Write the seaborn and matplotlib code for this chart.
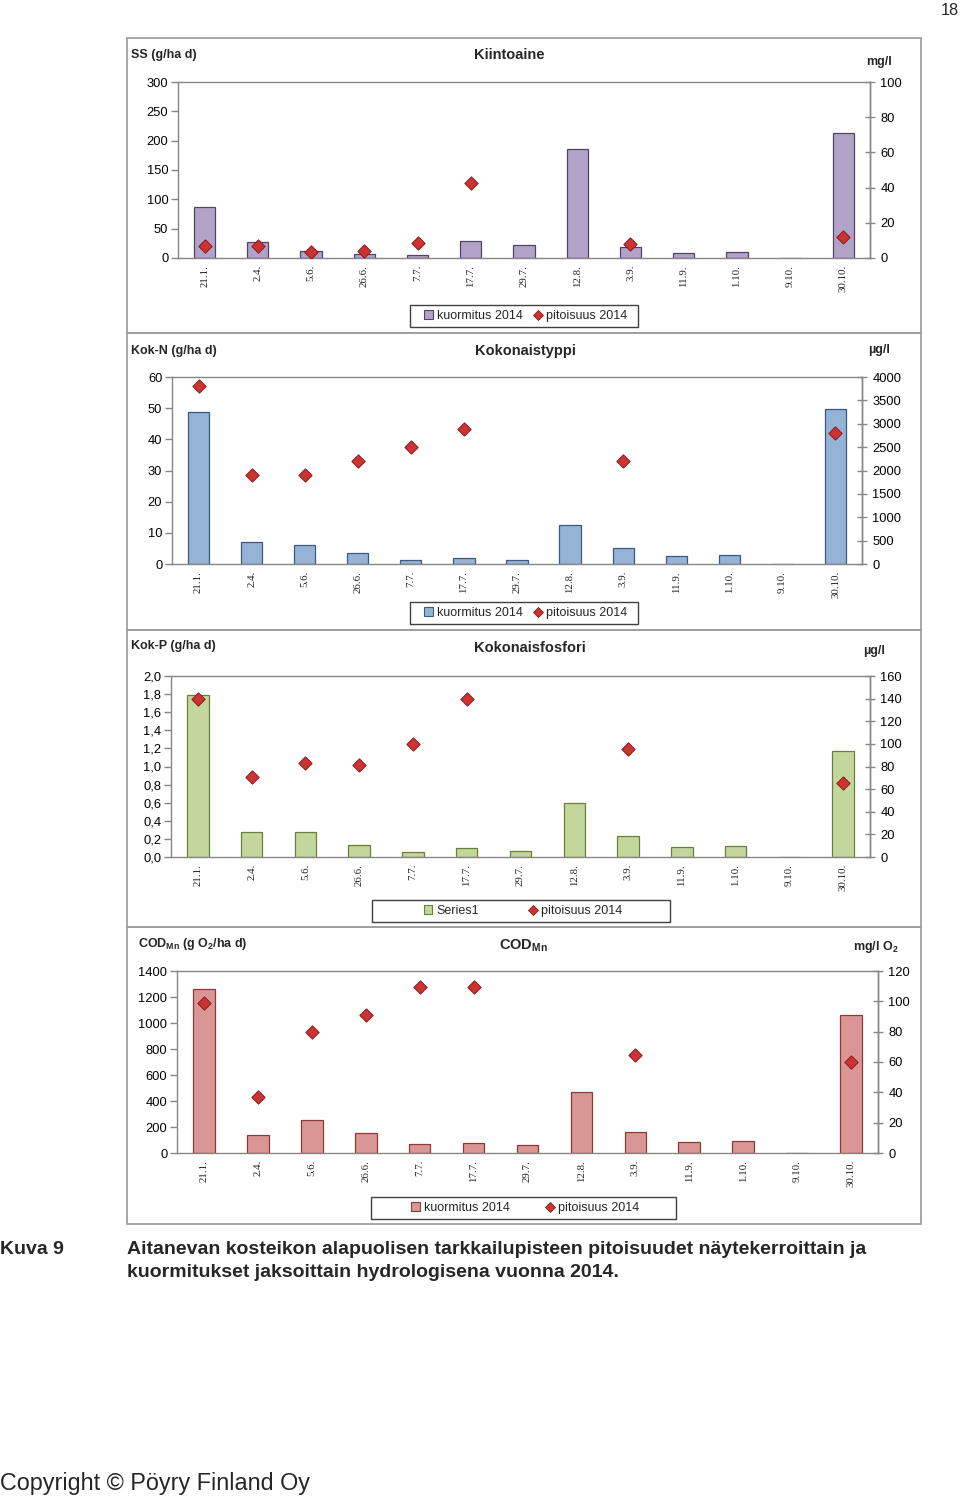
import numpy as np
import matplotlib
matplotlib.use("Agg")
import matplotlib.pyplot as plt
import seaborn as sns
from matplotlib.patches import Rectangle, Patch
from matplotlib.lines import Line2D
from matplotlib.ticker import FuncFormatter

nan = np.nan

# ---------------- data ----------------
dates = ["21.1.", "2.4.", "5.6.", "26.6.", "7.7.", "17.7.", "29.7.", "12.8.",
         "3.9.", "11.9.", "1.10.", "9.10.", "30.10."]

ss_load = [87, 27, 12, 7, 5, 29, 22, 186, 19, 9, 10, 0, 213]
ss_conc = [6.8, 6.8, 3.4, 4.0, 8.5, 42.6, nan, nan, 8.0, nan, nan, nan, 11.9]

n_load = [48.8, 7.1, 6.1, 3.5, 1.3, 1.9, 1.3, 12.5, 5.1, 2.6, 2.9, 0, 49.7]
n_conc = [3807, 1904, 1904, 2203, 2503, 2888, nan, nan, 2203, nan, nan, nan, 2802]

p_load = [1.79, 0.28, 0.28, 0.13, 0.055, 0.10, 0.066, 0.60, 0.23, 0.11, 0.12, 0, 1.17]
p_conc = [139.7, 70.7, 83.0, 81.0, 100.0, 139.7, nan, nan, 95.5, nan, nan, nan, 65.4]

cod_load = [1262, 138, 254, 154, 69, 77, 62, 469, 162, 85, 92, 0, 1062]
cod_conc = [98.9, 36.9, 79.8, 91.0, 109.4, 109.4, nan, nan, 64.6, nan, nan, nan, 60.0]

# ---------------- style ----------------
sns.set_theme(style="white")
plt.rcParams['font.family'] = ['Liberation Sans', 'DejaVu Sans']
plt.rcParams['mathtext.fontset'] = 'custom'
plt.rcParams['mathtext.rm'] = 'Liberation Sans'
plt.rcParams['mathtext.bf'] = 'Liberation Sans:bold'
plt.rcParams['mathtext.it'] = 'Liberation Sans:italic'

W, H = 960, 1498
fig = plt.figure(figsize=(W / 100, H / 100), dpi=100)
fig.patch.set_facecolor('white')


def fx(px):
    return px / W


def fy(py):
    return 1 - py / H


SPINE = '#868686'
MK_FACE = '#cc3333'
MK_EDGE = '#8b1a1a'

panels = [
    dict(top_box=38, bot_box=333, left=178, right=870, top=82, bottom=258,
         load=ss_load, conc=ss_conc, ymax=300, ystep=50, y2max=100, y2step=20,
         fc='#b3a2c7', ec='#4f4466', fmt=None,
         ltitle=("SS (g/ha d)", 131, 55), title=("Kiintoaine", 509, 55),
         rtitle=("mg/l", 866, 62),
         leg=(410, 638, 305, 327), leglabels=["kuormitus 2014", "pitoisuus 2014"], colsp=0.9),
    dict(top_box=333, bot_box=630, left=172, right=862, top=377, bottom=564,
         load=n_load, conc=n_conc, ymax=60, ystep=10, y2max=4000, y2step=500,
         fc='#95b3d7', ec='#3c5a80', fmt=None,
         ltitle=("Kok-N (g/ha d)", 131, 351), title=("Kokonaistyppi", 525, 351),
         rtitle=("µg/l", 868, 350),
         leg=(410, 638, 602, 624), leglabels=["kuormitus 2014", "pitoisuus 2014"], colsp=0.9),
    dict(top_box=630, bot_box=927, left=171, right=870, top=676, bottom=857,
         load=p_load, conc=p_conc, ymax=2.0, ystep=0.2, y2max=160, y2step=20,
         fc='#c3d69b', ec='#66803a', fmt='comma',
         ltitle=("Kok-P (g/ha d)", 131, 646), title=("Kokonaisfosfori", 530, 648),
         rtitle=("µg/l", 863, 651),
         leg=(372, 670, 900, 922), leglabels=["Series1", "pitoisuus 2014"], colsp=4.0),
    dict(top_box=927, bot_box=1224, left=177, right=878, top=971, bottom=1153,
         load=cod_load, conc=cod_conc, ymax=1400, ystep=200, y2max=120, y2step=20,
         fc='#d99694', ec='#8b3a3a', fmt=None,
         ltitle=(r"COD$_{\mathbf{Mn}}$ (g O$_{\mathbf{2}}$/ha d)", 138, 944),
         title=(r"COD$_{\mathbf{Mn}}$", 523, 946),
         rtitle=(r"mg/l O$_{\mathbf{2}}$", 853, 947),
         leg=(371, 676, 1197, 1219), leglabels=["kuormitus 2014", "pitoisuus 2014"], colsp=2.9),
]

x_pos = np.arange(len(dates))

for p in panels:
    # panel frame
    fig.patches.append(Rectangle((fx(127), fy(p['bot_box'])), fx(921) - fx(127),
                                 fy(p['top_box']) - fy(p['bot_box']),
                                 transform=fig.transFigure, fill=False,
                                 edgecolor='#a0a0a0', linewidth=1.3, zorder=0))

    ax = fig.add_axes([fx(p['left']), fy(p['bottom']),
                       (p['right'] - p['left']) / W, (p['bottom'] - p['top']) / H])
    ax.set_facecolor('none')
    sns.barplot(x=dates, y=p['load'], order=dates, ax=ax, color=p['fc'],
                saturation=1, edgecolor=p['ec'], linewidth=0.9, width=0.4,
                errorbar=None)
    ax.set_xlim(-0.5, len(dates) - 0.5)
    ax.set_ylim(0, p['ymax'])
    ax.set_yticks(np.round(np.arange(0, p['ymax'] + p['ystep'] / 2, p['ystep']), 3))
    if p['fmt'] == 'comma':
        ax.yaxis.set_major_formatter(FuncFormatter(lambda v, pos: f"{v:.1f}".replace('.', ',')))
    ax.set_xticks(x_pos)
    ax.set_xticklabels(dates, rotation=90, fontfamily='Liberation Serif', fontsize=7.8)
    ax.set_xticks(np.arange(-0.5, len(dates), 1), minor=True)
    ax.tick_params(axis='x', which='major', length=0, pad=5, colors='#222222')
    ax.tick_params(axis='x', which='minor', length=5, width=1, color=SPINE, direction='out')
    ax.tick_params(axis='y', direction='out', length=5, width=1, color=SPINE,
                   labelsize=9.3, pad=2, labelcolor='black')
    ax.set_xlabel('')
    ax.set_ylabel('')
    for s in ax.spines.values():
        s.set_visible(True)
        s.set_color(SPINE)
        s.set_linewidth(1)

    ax2 = ax.twinx()
    sns.scatterplot(x=x_pos, y=p['conc'], ax=ax2, marker='D', s=46,
                    color=MK_FACE, edgecolor=MK_EDGE, linewidth=0.7, zorder=5)
    ax2.set_ylim(0, p['y2max'])
    ax2.set_yticks(np.arange(0, p['y2max'] + p['y2step'] / 2, p['y2step']))
    ax2.tick_params(axis='y', direction='inout', length=7, width=1, color=SPINE,
                    labelsize=9.3, pad=4, labelcolor='black')
    ax2.set_xlim(-0.5, len(dates) - 0.5)
    ax2.set_ylabel('')
    for k, s in ax2.spines.items():
        s.set_visible(k == 'right')
        s.set_color(SPINE)
        s.set_linewidth(1)

    # titles
    t, x, y = p['ltitle']
    fig.text(fx(x), fy(y), t, ha='left', va='center', fontsize=9, fontweight='bold')
    t, x, y = p['title']
    fig.text(fx(x), fy(y), t, ha='center', va='center', fontsize=10.5, fontweight='bold')
    t, x, y = p['rtitle']
    fig.text(fx(x), fy(y), t, ha='left', va='center', fontsize=9, fontweight='bold')

    # legend
    lx0, lx1, ly0, ly1 = p['leg']
    fig.patches.append(Rectangle((fx(lx0), fy(ly1)), fx(lx1) - fx(lx0), fy(ly0) - fy(ly1),
                                 transform=fig.transFigure, fill=True, facecolor='white',
                                 edgecolor='#404040', linewidth=1.0, zorder=1))
    handles = [Patch(facecolor=p['fc'], edgecolor=p['ec'], linewidth=0.8),
               Line2D([], [], marker='D', linestyle='none', markersize=5,
                      markerfacecolor=MK_FACE, markeredgecolor=MK_EDGE, markeredgewidth=0.6)]
    leg = fig.legend(handles, p['leglabels'], loc='center',
                     bbox_to_anchor=(fx((lx0 + lx1) / 2 + 2), fy((ly0 + ly1) / 2)),
                     ncol=2, frameon=False, fontsize=9, handlelength=0.7, handleheight=0.7,
                     handletextpad=0.3, columnspacing=p['colsp'], borderpad=0.2)
    leg.set_zorder(2)

# page texts
fig.text(fx(959), fy(15), "18", ha='right', va='baseline', fontsize=11.7)
fig.text(fx(0), fy(1254), "Kuva 9", ha='left', va='baseline', fontsize=14, fontweight='bold')
fig.text(fx(127), fy(1254),
         "Aitanevan kosteikon alapuolisen tarkkailupisteen pitoisuudet näytekerroittain ja",
         ha='left', va='baseline', fontsize=14, fontweight='bold')
fig.text(fx(127), fy(1277),
         "kuormitukset jaksoittain hydrologisena vuonna 2014.",
         ha='left', va='baseline', fontsize=14, fontweight='bold')
fig.text(fx(0), fy(1490), "Copyright © Pöyry Finland Oy", ha='left', va='baseline',
         fontsize=16.8)

fig.savefig("out.png", dpi=100)
